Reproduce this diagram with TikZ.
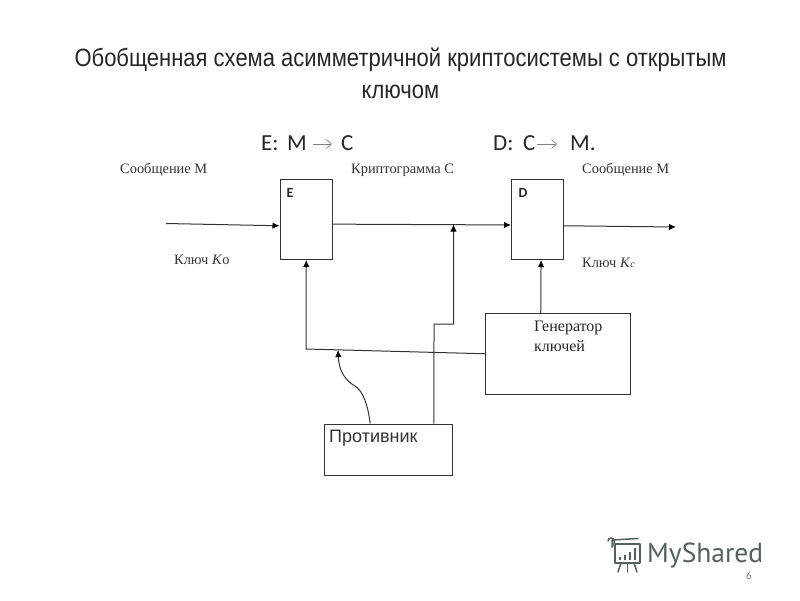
\documentclass[tikz,border=0pt]{standalone}
\usepackage{fontspec}
\setmainfont{Liberation Serif}
\newfontfamily\titlefont[FakeStretch=0.88]{Liberation Sans}
\newfontfamily\arialfont{Liberation Sans}
\newfontfamily\califont{Carlito}
\newfontfamily\logofont{PT Sans}
\usetikzlibrary{arrows.meta,calc}
\definecolor{linec}{gray}{0.2}
\definecolor{logoc}{HTML}{55605C}
\tikzset{
  blockbox/.style={draw=linec,line width=1pt,fill=white,inner sep=0pt,anchor=north west},
  conn/.style={draw=linec,line width=1pt,-{Latex[length=7pt,width=6.5pt,black]}},
  thinarrow/.style={draw=gray,line width=0.7pt,-{Straight Barb[length=5pt,width=9pt]}},
  lab/.style={font=\fontsize{14.4}{16}\selectfont,text=black!80,anchor=west,inner sep=0pt},
  formula/.style={font=\califont\fontsize{23}{25}\selectfont,text=black!85,anchor=base west,inner sep=0pt},
  blockname/.style={font=\califont\bfseries\fontsize{14}{16}\selectfont,text=black!85,inner sep=0pt},
  titleline/.style={font=\titlefont\fontsize{25}{28}\selectfont,text=black!85,inner sep=0pt},
}
\begin{document}
\begin{tikzpicture}[x=1pt,y=-1pt]
\useasboundingbox (0,0) rectangle (800,600);
% titles
\node[titleline] (t1) at (400.5,60) {Обобщенная схема асимметричной криптосистемы с открытым};
\node[titleline] (t2) at (400.5,92) {ключом};
% formulas
\node[formula] (f1) at (261,150.5) {E:};
\node[formula] (f2) at (287,150.5) {M};
\node[formula] (f3) at (341,150.5) {C};
\node[formula] (f4) at (493,150.5) {D:};
\node[formula] (f5) at (523,150.5) {C};
\node[formula] (f6) at (570,150.5) {M.};
\coordinate (a1s) at (313,144);
\coordinate (a1e) at (332,144);
\coordinate (a2s) at (537,144);
\coordinate (a2e) at (557,144);
\draw[thinarrow] (a1s) -- (a1e);
\draw[thinarrow] (a2s) -- (a2e);
% labels
\node[lab] (l1) at (120,170) {Сообщение М};
\node[lab] (l2) at (351,170) {Криптограмма С};
\node[lab] (l3) at (582,170) {Сообщение М};
\node[lab] (l4) at (174,260) {Ключ \textit{К}о};
\node[lab] (l5) at (582,263) {Ключ \textit{К}\raisebox{0pt}{\fontsize{10}{10}\selectfont\textit{с}}};
% blocks
\node[blockbox,minimum width=52.5pt,minimum height=80.5pt] (E) at (279.5,178.5) {};
\node[blockbox,minimum width=52pt,minimum height=80.5pt] (D) at (511,178.5) {};
\node[blockbox,minimum width=144.5pt,minimum height=80.5pt] (G) at (485,313) {};
\node[blockbox,minimum width=128.5pt,minimum height=51.5pt] (A) at (323.5,423.5) {};
\node[blockname] (En) at (290,193) {E};
\node[blockname] (Dn) at (523,193) {D};
\node[lab,align=left,text=black!85,anchor=north west,font=\fontsize{16}{20}\selectfont] (Gn) at (534,320.5) {Генератор\\ключей};
\node[lab,font=\arialfont\fontsize{18}{20}\selectfont] (An) at (329,438) {Противник};
% connectors
\coordinate (in) at (166,223.5);
\coordinate (out) at (676,227);
\coordinate (bend1) at (306,349);
\coordinate (hit) at (338,350);
\coordinate (tap) at (453.5,224.5);
\coordinate (g1) at (434,324);
\coordinate (g2) at (453.5,324);
\draw[conn] (in) -- ($(E.north west)!0.58!(E.south west)$);
\draw[conn] ($(E.north east)!0.56!(E.south east)$) -- ($(D.north west)!0.57!(D.south west)$);
\draw[conn] ($(D.north east)!0.58!(D.south east)$) -- (out);
\draw[conn] ($(G.north west)!0.383!(G.north east)$) -- ($(D.south west)!0.567!(D.south east)$);
\draw[conn] ($(G.north west)!0.5!(G.south west)$) -- (bend1) -- (E.south);
\draw[conn] ($(A.north west)!0.853!(A.north east)$) -- (g1) -- (g2) -- (tap);
\draw[conn] ($(A.north west)!0.36!(A.north east)$) .. controls (368,405) and (363,391) .. (355,386) .. controls (346,381) and (339,372) .. (hit);
% logo
\begin{scope}[draw=logoc,line width=1.5pt,line cap=round,line join=round]
\draw (612,547) -- (612,540) -- (638,538.5);
\draw (608,541) .. controls (608,537) and (614,537) .. (614,541) -- (614,546);
\draw (615,544) rectangle (640,563);
\draw (621,563) -- (618,572);
\draw (627.5,563) -- (627.5,572);
\draw (634,563) -- (637,572);
\fill[logoc] (619,557) rectangle (621,560);
\fill[logoc] (624,555) rectangle (626,560);
\fill[logoc] (629,552) rectangle (631,560);
\fill[logoc] (634,548) rectangle (636,560);
\end{scope}
\node[font=\logofont\fontsize{27.5}{29}\selectfont,text=logoc,inner sep=0pt,anchor=base west] (logo) at (647,562.5) {MyShared};
\node[font=\califont\fontsize{11}{12}\selectfont,text=gray,inner sep=0pt] (num) at (749,575.5) {6};
\end{tikzpicture}
\end{document}
